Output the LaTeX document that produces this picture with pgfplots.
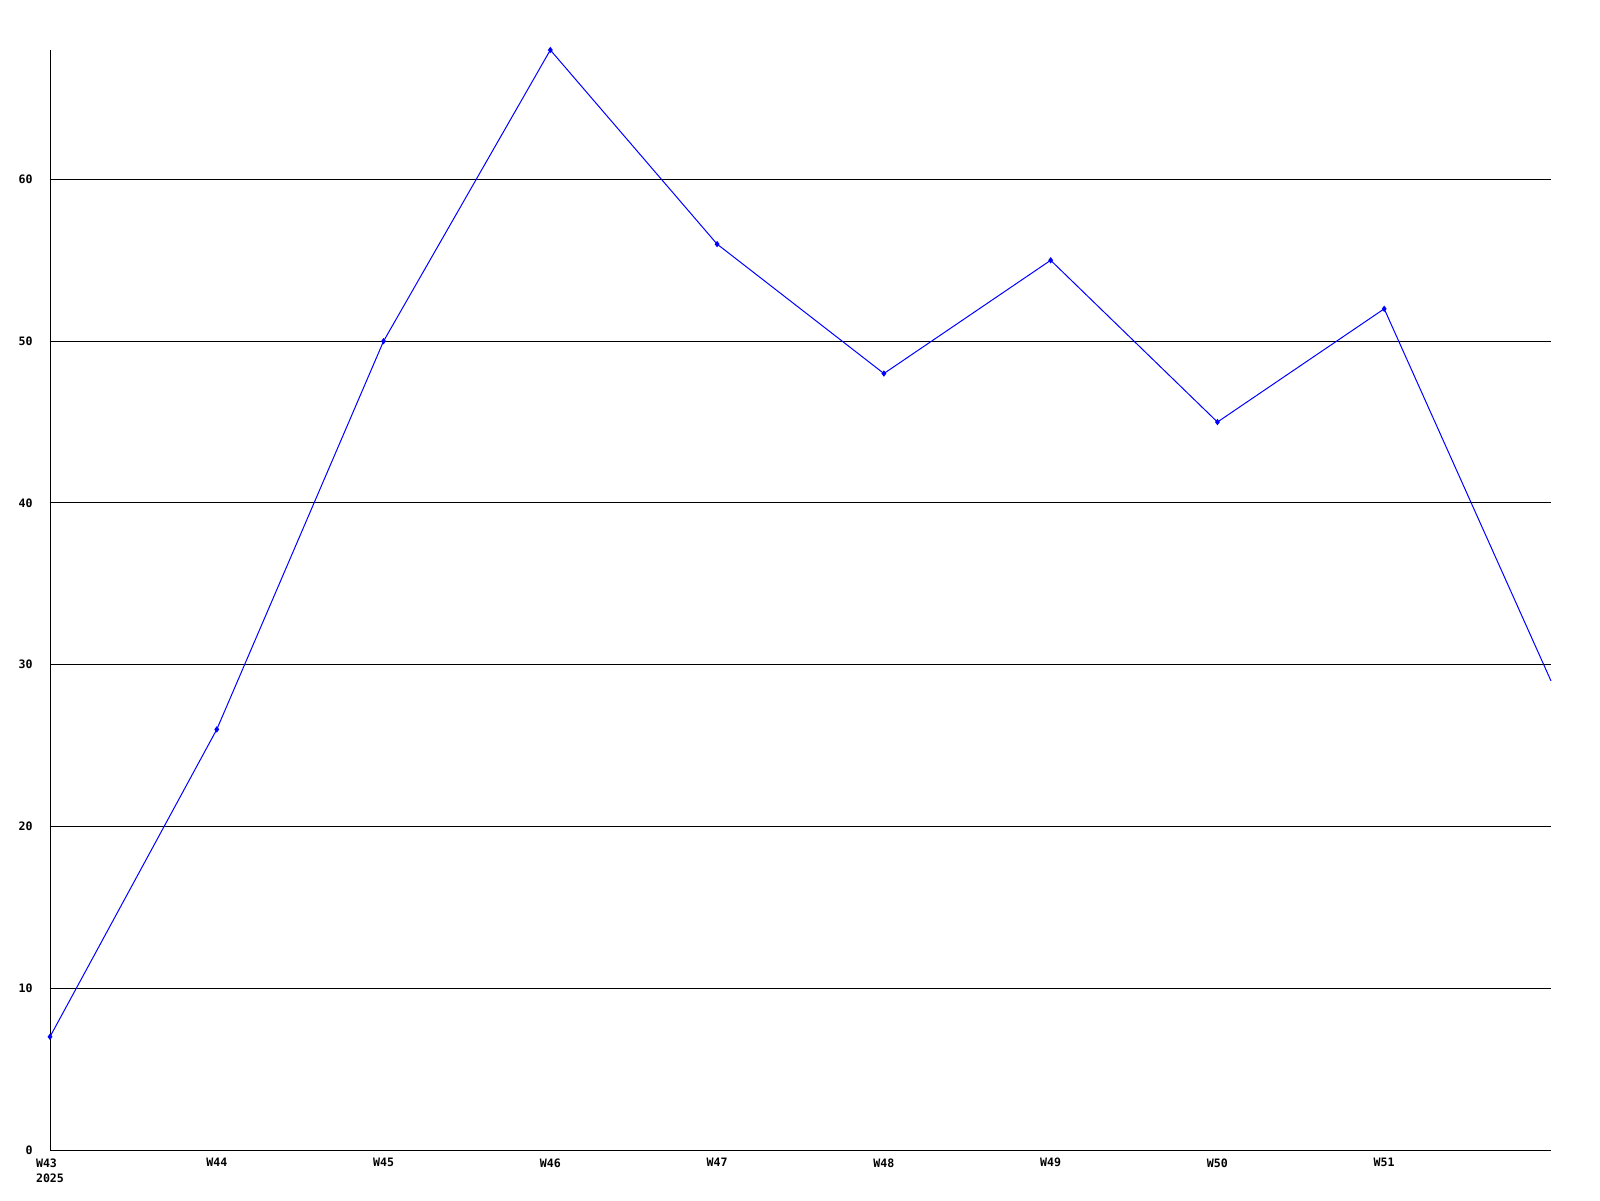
\documentclass[border=0pt]{standalone}
\usepackage{pgfplots}
\pgfplotsset{compat=1.18}
\usepackage{fontspec}
\setmainfont{DejaVu Sans Mono}
\begin{document}
\begin{tikzpicture}
\path[use as bounding box] (0,0) rectangle (800pt,600pt);
\begin{axis}[
  at={(25pt,25pt)}, anchor=south west,
  scale only axis, width=750.5pt, height=550pt,
  xmin=0, xmax=9, ymin=0, ymax=68,
  axis x line=bottom, axis y line=left,
  axis line style={-, black, line width=0.5pt},
  major tick length=0pt,
  xtick={0,1,2,3,4,5,6,7,8},
  xticklabels={{W43\\2025},W44,W45,W46,W47,W48,W49,W50,W51},
  ytick={0,10,20,30,40,50,60},
  ymajorgrids, grid style={black, line width=0.5pt},
  ticklabel style={font=\fontsize{5.8}{7.5}\selectfont\bfseries},
  xticklabel style={inner sep=0pt, anchor=north, yshift=-4pt, align=left},
  yticklabel style={inner sep=0pt, anchor=east, xshift=-8.5pt},
  /pgf/number format/assume math mode=true,
  clip=false,
]
\addplot[color={rgb,255:red,0;green,0;blue,255}, line width=0.5pt, mark=diamond*, mark size=1.2pt, mark indices={1,2,3,4,5,6,7,8,9}]
coordinates {(0,7) (1,26) (2,50) (3,68) (4,56) (5,48) (6,55) (7,45) (8,52) (9,29)};
\end{axis}
\end{tikzpicture}
\end{document}
